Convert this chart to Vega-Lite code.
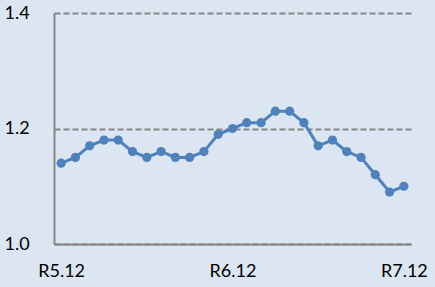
{
  "$schema": "https://vega.github.io/schema/vega-lite/v6.json",
  "width": 357,
  "height": 231,
  "autosize": {"type": "none"},
  "padding": {"left": 54, "top": 13, "right": 24, "bottom": 43},
  "background": "#dce6f2",
  "config": {
    "view": {"stroke": null},
    "font": "Lato",
    "axis": {"labelFont": "Lato", "labelFontSize": 18, "labelColor": "#000000", "labelFontWeight": "normal"}
  },
  "data": {
    "values": [
      {"m": "R5.12", "v": 1.14},
      {"m": "R6.1", "v": 1.15},
      {"m": "R6.2", "v": 1.17},
      {"m": "R6.3", "v": 1.18},
      {"m": "R6.4", "v": 1.18},
      {"m": "R6.5", "v": 1.16},
      {"m": "R6.6", "v": 1.15},
      {"m": "R6.7", "v": 1.16},
      {"m": "R6.8", "v": 1.15},
      {"m": "R6.9", "v": 1.15},
      {"m": "R6.10", "v": 1.16},
      {"m": "R6.11", "v": 1.19},
      {"m": "R6.12", "v": 1.20},
      {"m": "R7.1", "v": 1.21},
      {"m": "R7.2", "v": 1.21},
      {"m": "R7.3", "v": 1.23},
      {"m": "R7.4", "v": 1.23},
      {"m": "R7.5", "v": 1.21},
      {"m": "R7.6", "v": 1.17},
      {"m": "R7.7", "v": 1.18},
      {"m": "R7.8", "v": 1.16},
      {"m": "R7.9", "v": 1.15},
      {"m": "R7.10", "v": 1.12},
      {"m": "R7.11", "v": 1.09},
      {"m": "R7.12", "v": 1.10}
    ]
  },
  "mark": {
    "type": "line",
    "color": "#4f81bd",
    "strokeWidth": 3,
    "point": {"filled": true, "size": 85, "color": "#4f81bd", "opacity": 1}
  },
  "encoding": {
    "x": {
      "field": "m",
      "type": "ordinal",
      "sort": null,
      "scale": {"type": "point", "padding": 0.5},
      "axis": {
        "title": null,
        "values": ["R5.12", "R6.12", "R7.12"],
        "labelAngle": 0,
        "ticks": false,
        "tickSize": 0,
        "grid": false,
        "domain": true,
        "domainColor": "#868686",
        "domainWidth": 2,
        "labelPadding": 18,
        "labelBaseline": "top"
      }
    },
    "y": {
      "field": "v",
      "type": "quantitative",
      "scale": {"domain": [1.0, 1.4], "nice": false, "zero": false},
      "axis": {
        "title": null,
        "values": [1.0, 1.2, 1.4],
        "format": ".1f",
        "ticks": false,
        "tickSize": 0,
        "domain": true,
        "domainColor": "#868686",
        "domainWidth": 2,
        "grid": true,
        "gridColor": "#868686",
        "gridWidth": 2,
        "gridDash": [6, 3],
        "gridOpacity": 1,
        "labelAlign": "left",
        "labelBaseline": "middle",
        "labelPadding": 50
      }
    }
  }
}
